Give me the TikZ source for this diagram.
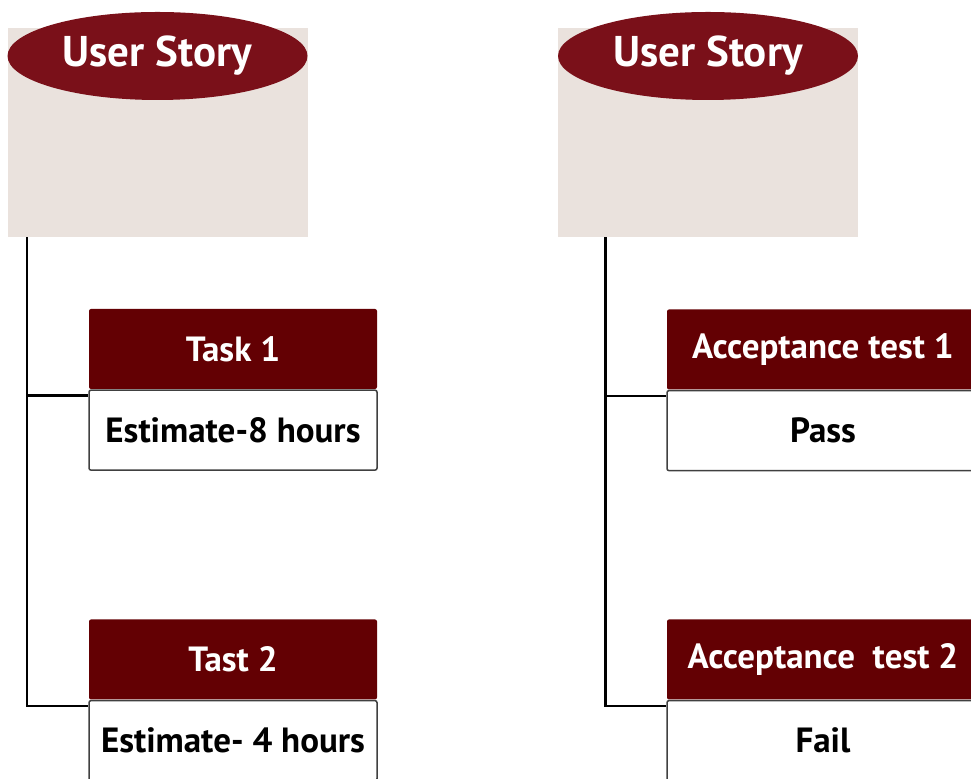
\documentclass[tikz,border=0pt]{standalone}
\usepackage{fontspec}
\setmainfont{PT Sans}
\usetikzlibrary{positioning,shapes.geometric}

\definecolor{storyred}{HTML}{7A1019}
\definecolor{headred}{HTML}{630003}
\definecolor{storybeige}{HTML}{EAE2DD}

\tikzset{
  storybox/.style={fill=storybeige, minimum width=150pt, minimum height=104.5pt, inner sep=0pt},
  storyhead/.style={ellipse, fill=storyred, text=white, minimum width=150pt, minimum height=44pt,
    inner sep=0pt, font=\bfseries\fontsize{21.5}{24}\selectfont},
  taskhead/.style={fill=headred, text=white, minimum height=40pt, inner sep=0pt,
    rounded corners=1pt, font=\bfseries\fontsize{17.5}{20}\selectfont},
  taskbody/.style={draw=black!75, line width=0.75pt, fill=white, minimum height=40pt, inner sep=0pt,
    rounded corners=1pt, font=\bfseries\fontsize{17.5}{20}\selectfont},
  branch/.style={line width=1.3pt}
}

\begin{document}
\begin{tikzpicture}[x=0.5pt, y=-0.5pt]
  \useasboundingbox (0,0) rectangle (971,779);
 %LHS story
    \node[storybox] (story1) at (157.5,132.5) {};
    \node[storyhead] (head1) at (157.5,56) {User Story};
 %LHS tasks
    \node[taskhead, minimum width=144pt] (task1) at (233,349) {Task 1};
    \node[taskbody, minimum width=144pt, below=0pt of task1] (est1) {Estimate-8 hours};
    \node[taskhead, minimum width=144pt] (task2) at (233,659.5) {Tast 2};
    \node[taskbody, minimum width=144pt, below=0pt of task2] (est2) {Estimate- 4 hours};
    \draw[branch] ([xshift=10pt]story1.south west) |- ([yshift=-3pt]est1.north west);
    \draw[branch] ([xshift=10pt]story1.south west) |- ([yshift=-3pt]est2.north west);
 %RHS story
    \node[storybox] (story2) at (708,132.5) {};
    \node[storyhead] (head2) at (708,56) {User Story};
 %RHS tests
    \node[taskhead, minimum width=156pt] (test1) at (823,349.5) {Acceptance test 1};
    \node[taskbody, minimum width=156pt, below=0pt of test1] (res1) {Pass};
    \node[taskhead, minimum width=156pt] (test2) at (823,659.5) {Acceptance\ \ test 2};
    \node[taskbody, minimum width=156pt, below=0pt of test2] (res2) {Fail};
    \draw[branch] ([xshift=24pt]story2.south west) |- ([yshift=-3pt]res1.north west);
    \draw[branch] ([xshift=24pt]story2.south west) |- ([yshift=-3pt]res2.north west);
\end{tikzpicture}
\end{document}
